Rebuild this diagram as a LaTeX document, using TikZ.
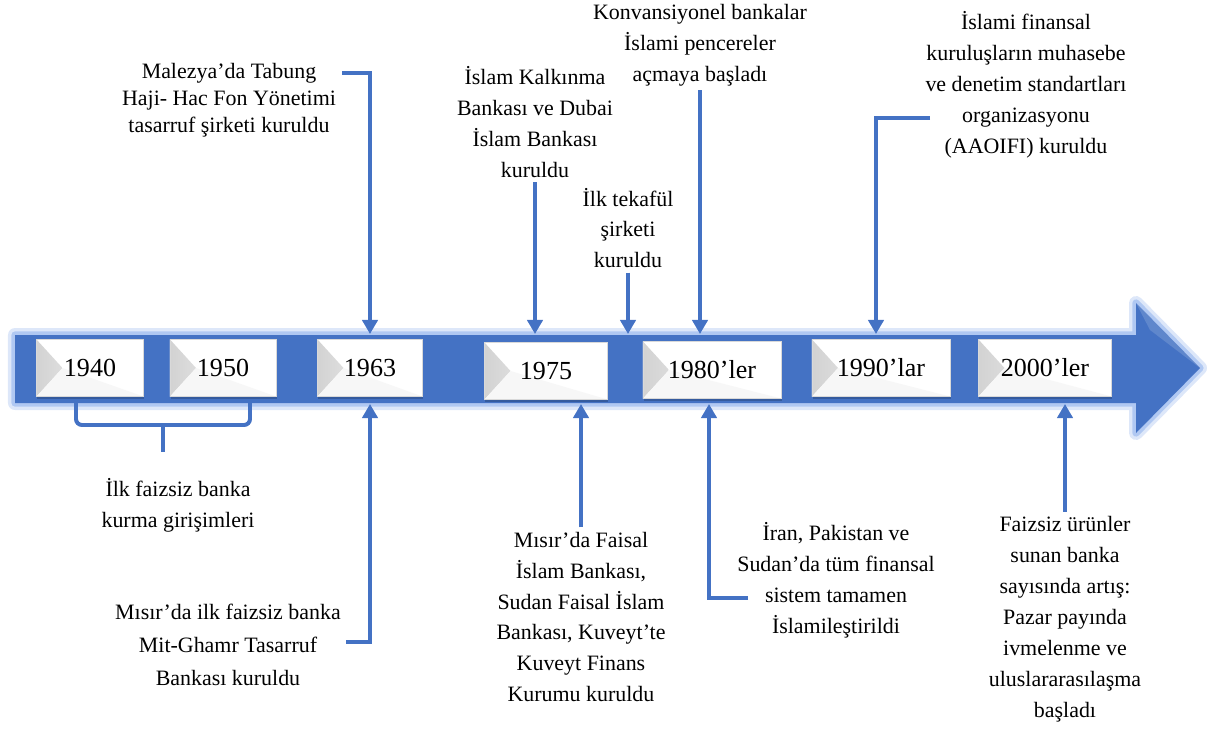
\documentclass[tikz,border=0pt]{standalone}
\usepackage{fontspec}
\setmainfont{Liberation Serif}
\usetikzlibrary{arrows.meta,shadows}
\definecolor{bandblue}{HTML}{4472C4}
\definecolor{glowblue}{HTML}{9DBBEF}
\definecolor{shadowblue}{HTML}{2F528F}

\begin{document}
\begin{tikzpicture}[x=0.025cm, y=-0.025cm,
  every node/.style={font=\fontsize{15.6}{22}\selectfont, align=center, inner sep=3pt},
  year/.style={fill=white, draw=gray!30, line width=0.3pt, minimum height=1.425cm, inner sep=0pt,
    font=\fontsize{18.5}{22}\selectfont,
    drop shadow={shadow xshift=0.5pt, shadow yshift=-2pt, opacity=0.7, fill=shadowblue},
    path picture={\fill[left color=gray!35, right color=white]
      (path picture bounding box.north west) -- ([xshift=0.65cm]path picture bounding box.west)
      -- (path picture bounding box.south west) -- cycle;
      \fill[gray!6] (path picture bounding box.south east) -- ([xshift=0.65cm]path picture bounding box.west)
      -- (path picture bounding box.south west) -- cycle;}},
  conn/.style={draw=bandblue, line width=2.8pt},
  tip/.style={conn, -{Triangle[length=0.35cm, width=0.38cm]}}]
\useasboundingbox (0,0) rectangle (1213,730);

% the time band
\draw[glowblue, line width=0.35cm, opacity=0.35, line join=round]
  (15,335) -- (1136,335) -- (1136,303) -- (1200,368) -- (1136,433) -- (1136,403) -- (15,403) -- cycle;
\draw[glowblue, line width=0.18cm, opacity=0.7, line join=round]
  (15,335) -- (1136,335) -- (1136,303) -- (1200,368) -- (1136,433) -- (1136,403) -- (15,403) -- cycle;
\fill[bandblue]
  (15,335) -- (1136,335) -- (1136,303) -- (1200,368) -- (1136,433) -- (1136,403) -- (15,403) -- cycle;
\fill[white, opacity=0.15] (1136,303) -- (1200,368) -- (1150,330) -- cycle;
\coordinate (bandN) at (0,334);
\coordinate (bandS) at (0,404);

% years
\node[year, minimum width=2.675cm] (y1940) at (90,368) {1940};
\node[year, minimum width=2.65cm] (y1950) at (223,368) {1950};
\node[year, minimum width=2.625cm] (y1963) at (370,368) {1963};
\node[year, minimum width=3.075cm] (y1975) at (546,371) {1975};
\node[year, minimum width=3.45cm] (y1980) at (712,370) {1980’ler};
\node[year, minimum width=3.45cm] (y1990) at (881,368) {1990’lar};
\node[year, minimum width=3.325cm] (y2000) at (1045,368) {2000’ler};

% events above
\node[font=\fontsize{15.6}{19.2}\selectfont] (malezya) at (229,100)
  {Malezya’da Tabung\\Haji- Hac Fon Yönetimi\\tasarruf şirketi kuruldu};
\node (kalkinma) at (535,122) {İslam Kalkınma\\Bankası ve Dubai\\İslam Bankası\\kuruldu};
\node (tekaful) at (628,228) {İlk tekafül\\şirketi\\kuruldu};
\node (konv) at (700,45) {Konvansiyonel bankalar\\İslami pencereler\\açmaya başladı};
\node (aaoifi) at (1026,85)
  {İslami finansal\\kuruluşların muhasebe\\ve denetim standartları\\organizasyonu\\(AAOIFI) kuruldu};

% events below
\node (faizsiz) at (178,505) {İlk faizsiz banka\\kurma girişimleri};
\node[font=\fontsize{15.6}{23.4}\selectfont] (mitghamr) at (228,645)
  {Mısır’da ilk faizsiz banka\\Mit-Ghamr Tasarruf\\Bankası kuruldu};
\node (faisal) at (581,617)
  {Mısır’da Faisal\\İslam Bankası,\\Sudan Faisal İslam\\Bankası, Kuveyt’te\\Kuveyt Finans\\Kurumu kuruldu};
\node (iran) at (836,580) {İran, Pakistan ve\\Sudan’da tüm finansal\\sistem tamamen\\İslamileştirildi};
\node (urun) at (1065,619)
  {Faizsiz ürünler\\sunan banka\\sayısında artış:\\Pazar payında\\ivmelenme ve\\uluslararasılaşma\\başladı};

% connectors
\coordinate (malezyaE) at (342,73);
\coordinate (aaoifiW) at (930,118);
\coordinate (p1990) at (876,334);
\coordinate (mitE) at (346,642);
\coordinate (iranW) at (748,598);
\coordinate (p1980) at (709,404);
\coordinate (braceL) at (76,403);
\coordinate (braceR) at (250,403);
\coordinate (braceM) at (163,425);
\coordinate (braceT) at (163,452);

\draw[tip] (malezyaE) -| (y1963 |- bandN);
\draw[tip] (kalkinma) -- (kalkinma |- bandN);
\draw[tip] (tekaful) -- (tekaful |- bandN);
\draw[tip] (konv) -- (konv |- bandN);
\draw[tip] (aaoifiW) -| (p1990);

\draw[conn, rounded corners=0.15cm] (braceL) |- (braceM) -| (braceR);
\draw[conn] (braceM) -- (braceT);
\draw[tip] (mitE) -| (y1963 |- bandS);
\draw[tip] (faisal) -- (faisal |- bandS);
\draw[tip] (iranW) -| (p1980);
\draw[tip] (urun) -- (urun |- bandS);
\end{tikzpicture}
\end{document}
